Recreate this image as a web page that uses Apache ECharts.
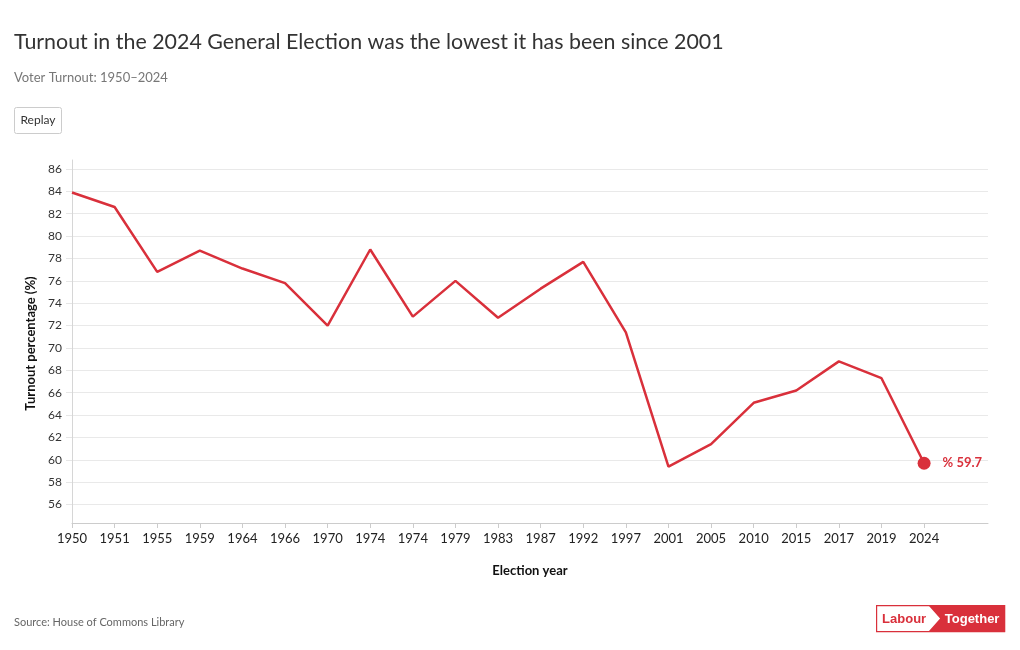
<!DOCTYPE html>
<html>
<head>
<meta charset="utf-8">
<script src="https://cdn.jsdelivr.net/npm/echarts@6/dist/echarts.min.js"></script>
<style>
html,body{margin:0;padding:0;background:#fff;}
#chart{width:1020px;height:650px;}
</style>
</head>
<body>
<div id="chart"></div>
<script>
const years = ['1950','1951','1955','1959','1964','1966','1970','1974','1974','1979','1983','1987','1992','1997','2001','2005','2010','2015','2017','2019','2024'];
const turnout = [83.9,82.6,76.8,78.7,77.1,75.8,72.0,78.8,72.8,76.0,72.7,75.3,77.7,71.4,59.4,61.4,65.1,66.2,68.8,67.3,59.7];
const yTicks = [56,58,60,62,64,66,68,70,72,74,76,78,80,82,84,86];

const FONT = 'Lato, "Open Sans", sans-serif';
const RED = '#d9303b';
const idx = years.map((_, i) => i);
const lineData = turnout.map((v, i) => [i, v]);
const last = turnout.length - 1;

const chart = echarts.init(document.getElementById('chart'), null, {renderer: 'canvas'});
chart.setOption({
  animation: false,
  backgroundColor: '#fff',
  textStyle: {fontFamily: FONT},
  title: [
    {text: 'Turnout in the 2024 General Election was the lowest it has been since 2001', left: 9, top: 27,
     textStyle: {fontFamily: FONT, fontSize: 21.4, fontWeight: 'normal', color: '#333'}},
    {text: 'Voter Turnout: 1950\u20132024', left: 9, top: 66,
     textStyle: {fontFamily: FONT, fontSize: 13, fontWeight: 'normal', color: '#777'}},
    {text: 'Source: House of Commons Library', left: 9, top: 612,
     textStyle: {fontFamily: FONT, fontSize: 11, fontWeight: 'normal', color: '#666'}}
  ],
  grid: {left: 72, right: 32, top: 160, bottom: 123},
  xAxis: {
    type: 'value', min: 0, max: 21.5, interval: 1, offset: -4,
    name: 'Election year', nameLocation: 'middle', nameGap: 41,
    nameTextStyle: {fontFamily: FONT, fontSize: 13, fontWeight: 'bold', color: '#111'},
    axisLine: {show: true, lineStyle: {color: '#ccc', width: 1}},
    axisTick: {show: true, length: 5, lineStyle: {color: '#ccc'}, customValues: idx},
    axisLabel: {customValues: idx, margin: 9, fontSize: 13, color: '#222', fontFamily: FONT,
      formatter: v => years[v] !== undefined ? years[v] : ''},
    splitLine: {show: false}
  },
  yAxis: {
    type: 'value', min: 54, max: 86.8, interval: 2,
    name: 'Turnout percentage (%)', nameLocation: 'middle', nameGap: 35, nameRotate: 90,
    nameTextStyle: {fontFamily: FONT, fontSize: 13, fontWeight: 'bold', color: '#111'},
    axisLine: {show: true, lineStyle: {color: '#d6d6d6'}},
    axisTick: {show: true, length: 6, lineStyle: {color: '#e6e6e6'}},
    axisLabel: {margin: 10, fontSize: 12, color: '#333', fontFamily: FONT, showMinLabel: false, showMaxLabel: false},
    splitLine: {show: true, showMinLine: false, showMaxLine: false, lineStyle: {color: '#e9e9e9'}}
  },
  series: [
    {type: 'line', data: lineData, showSymbol: false, symbol: 'none',
     lineStyle: {color: RED, width: 2.5}, z: 3},
    {type: 'scatter', data: [[last, turnout[last]]], symbol: 'circle', symbolSize: 13,
     itemStyle: {color: RED, opacity: 1}, z: 4,
     label: {show: true, position: 'right', distance: 12, color: RED, fontWeight: 'bold', fontSize: 13, fontFamily: FONT,
       formatter: p => '% ' + p.value[1]}}
  ],
  graphic: [
    {type: 'group', left: 14, top: 107, children: [
      {type: 'rect', shape: {x: 0.5, y: 0.5, width: 47, height: 26, r: 2},
       style: {fill: '#fff', stroke: '#ccc', lineWidth: 1}},
      {type: 'text', x: 24, y: 13.5, style: {text: 'Replay', fill: '#333', font: '12px ' + FONT, align: 'center', verticalAlign: 'middle'}}
    ]},
    {type: 'group', left: 876, top: 605, children: [
      {type: 'rect', shape: {x: 0.5, y: 0.5, width: 128, height: 26}, style: {fill: '#fff', stroke: RED, lineWidth: 1.2}},
      {type: 'polygon', shape: {points: [[52, 0], [129, 0], [129, 27], [52, 27], [64, 13.5]]}, style: {fill: RED}},
      {type: 'text', x: 28, y: 14, style: {text: 'Labour', fill: RED, font: 'bold 13px "Liberation Sans Narrow", "Liberation Sans", Arial, sans-serif', align: 'center', verticalAlign: 'middle'}},
      {type: 'text', x: 96, y: 14, style: {text: 'Together', fill: '#fff', font: 'bold 13px "Liberation Sans Narrow", "Liberation Sans", Arial, sans-serif', align: 'center', verticalAlign: 'middle'}}
    ]}
  ]
});
</script>
</body>
</html>
